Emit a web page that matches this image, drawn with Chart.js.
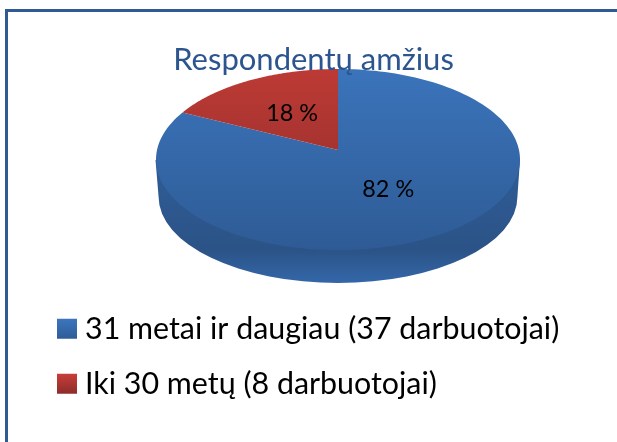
<!DOCTYPE html>
<html><head><meta charset="utf-8">
<script src="https://cdn.jsdelivr.net/npm/chart.js@4"></script>
<style>
html,body{margin:0;padding:0;background:#fff;overflow:hidden}
#wrap{position:relative;width:617px;height:442px;overflow:hidden}
#frame{position:absolute;left:5px;top:9px;width:700px;height:600px;border-top:3px solid #2f5a94;border-left:3px solid #2f5a94}
canvas{position:absolute;left:0;top:0;filter:blur(0.35px)}
</style></head><body>
<div id="wrap"><div id="frame"></div><canvas id="c" width="617" height="442"></canvas></div>
<script>
const titleText = "Respondentų amžius";
const categories = ["31 metai ir daugiau (37 darbuotojai)", "Iki 30 metų (8 darbuotojai)"];
const values = [37, 8];
const sliceLabels = ["82 %", "18 %"];
const faceStops = [["#3b74bb", "#2e5b95"], ["#bd3a35", "#8a2b29"]];
const legendStops = [["#3c75bd", "#2e5c97"], ["#c73d39", "#8c2c2a"]];
const FONT = "Lato, sans-serif";

// perspective mapping of the library's unit pie on to the tilted disc
const P = {cx:338, cy:150, R:181, a:73.75, c:-0.105, top:69, bottom:250};
function proj(u, v){
  const w = 1 + P.c * v;
  return [P.cx + P.R * u / w, (P.a * v + P.cy) / w];
}
const pseudo3d = {
  id:"pseudo3d",
  beforeDraw(chart){
    const ctx = chart.ctx, arcs = chart.getDatasetMeta(0).data;
    // side wall
    const wall = ctx.createLinearGradient(0,165,0,283);
    wall.addColorStop(0,"#2f5c96"); wall.addColorStop(0.72,"#2b5387"); wall.addColorStop(1,"#3467a9");
    ctx.save();
    ctx.fillStyle = wall;
    ctx.beginPath();
    ctx.moveTo(155.5,160);
    ctx.lineTo(158.6,197);
    ctx.ellipse(338,197,179.4,86,0,Math.PI,0,true);
    ctx.lineTo(520,160);
    ctx.closePath();
    ctx.fill();
    // top faces
    arcs.forEach((arc,i)=>{
      const g = ctx.createLinearGradient(0,P.top,0,P.bottom);
      g.addColorStop(0,faceStops[i][0]); g.addColorStop(1,faceStops[i][1]);
      ctx.fillStyle = g;
      ctx.beginPath();
      ctx.moveTo(...proj(0,0));
      const n = 160;
      for(let k=0;k<=n;k++){
        const t = arc.startAngle + (arc.endAngle-arc.startAngle)*k/n;
        ctx.lineTo(...proj(Math.cos(t),Math.sin(t)));
      }
      ctx.closePath();
      ctx.fill();
    });
    ctx.restore();
  },
  beforeDatasetsDraw(){ return false; },
  afterDraw(chart){
    const ctx = chart.ctx, arcs = chart.getDatasetMeta(0).data;
    ctx.save();
    ctx.fillStyle="#000"; ctx.font="23.4px "+FONT; ctx.textAlign="center"; ctx.textBaseline="middle";
    arcs.forEach((arc,i)=>{
      const t=(arc.startAngle+arc.endAngle)/2;
      const [x,y]=proj(Math.cos(t)*0.5,Math.sin(t)*0.5);
      ctx.fillText(sliceLabels[i],x,y);
    });
    ctx.restore();
  }
};
const cv = document.getElementById("c");
const cx2 = cv.getContext("2d");
function boxGrad(i){
  const y0 = 319 + 55*i, g = cx2.createLinearGradient(0,y0,0,y0+20);
  g.addColorStop(0,legendStops[i][0]); g.addColorStop(1,legendStops[i][1]);
  return g;
}
new Chart(cv,{
  type:"pie",
  data:{labels:categories,datasets:[{data:values,backgroundColor:faceStops.map(s=>s[0]),borderWidth:0}]},
  plugins:[pseudo3d],
  options:{
    responsive:false,animation:false,
    layout:{padding:{left:39.6,right:29.6,top:0,bottom:33}},
    plugins:{
      tooltip:{enabled:false},
      title:{display:true,text:titleText,color:"#2c5590",font:{family:FONT,size:31,weight:"normal"},padding:{top:41,bottom:0}},
      legend:{
        position:"bottom",align:"start",
        labels:{
          color:"#000",font:{family:FONT,size:30.4},usePointStyle:true,pointStyle:"rect",boxWidth:5.6,boxHeight:20,padding:24.6,
          generateLabels(){return categories.map((t,i)=>({text:t,fillStyle:boxGrad(i),strokeStyle:"transparent",lineWidth:0,pointStyle:"rect",index:i}));}
        }
      }
    }
  }
});
</script></body></html>
